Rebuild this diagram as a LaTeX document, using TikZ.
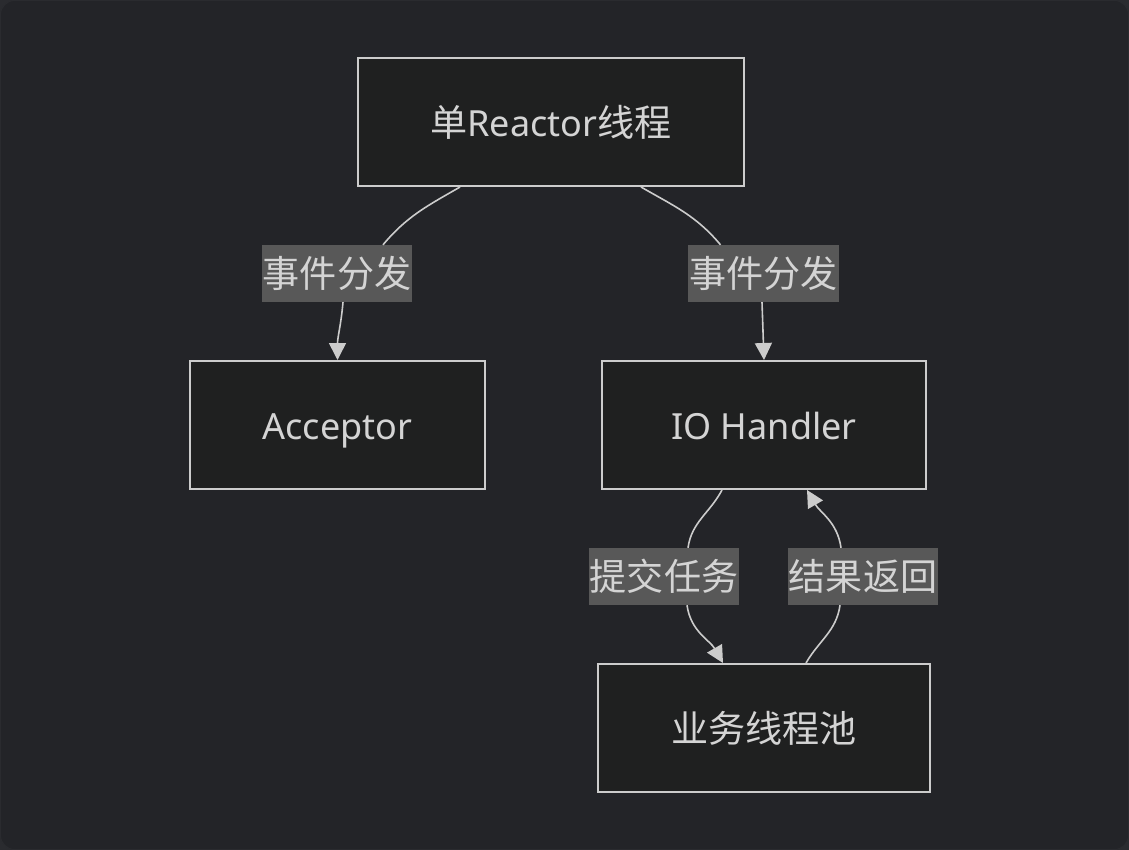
\documentclass[tikz,border=0pt]{standalone}
\usepackage{fontspec}
\setmainfont{Noto Sans}
\newfontfamily\cjk[Scale=1.03]{Noto Sans CJK SC}
\usepackage{tikz}
\usetikzlibrary{arrows.meta}
\definecolor{bg_outer}{HTML}{2A2B2F}
\definecolor{bg_dark}{HTML}{232428}
\definecolor{box_fill}{HTML}{1F2020}
\definecolor{box_line}{HTML}{CCCCCC}
\definecolor{tag_fill}{HTML}{585858}
\definecolor{text_grey}{HTML}{D4D4D4}

\begin{document}
\begin{tikzpicture}[x=1pt, y=-1pt, >={Triangle[length=17pt,width=17pt]},
  every node/.style={font=\fontsize{36}{44}\selectfont, text=text_grey},
  block/.style={draw=box_line, line width=2pt, fill=box_fill, minimum height=128pt,
    text height=34pt, text depth=5pt},
  tag/.style={fill=tag_fill, inner sep=1pt, minimum height=57pt},
  link/.style={draw=box_line, line width=1.6pt}]

  \useasboundingbox (0,0) rectangle (1129,850);
  \fill[bg_outer] (0,0) rectangle (1129,850);
  \draw[bg_outer, fill=bg_dark, line width=1pt, rounded corners=14pt] (0.5,0.5) rectangle (1128.5,849.5);

  % boxes
  \node[block, minimum width=386pt] (reactor) at (551,122) {{\cjk 单}Reactor{\cjk 线程}};
  \node[block, minimum width=295pt] (acceptor) at (337.5,425) {Acceptor};
  \node[block, minimum width=324pt] (handler) at (764,425) {IO Handler};
  \node[block, minimum width=332pt] (pool) at (764,728) {\cjk 业务线程池};

  % edge labels
  \node[tag] (dispatch_a) at (337,273.5) {\cjk 事件分发};
  \node[tag] (dispatch_b) at (763.5,273.5) {\cjk 事件分发};
  \node[tag] (submit) at (664,576.5) {\cjk 提交任务};
  \node[tag] (result) at (863,576.5) {\cjk 结果返回};

  \draw[link] ([xshift=-91pt]reactor.south) to[out=-150,in=50] ([xshift=46pt]dispatch_a.north);
  \draw[link,->] ([xshift=6pt]dispatch_a.south) to[out=-95,in=90] (acceptor.north);

  \draw[link] ([xshift=90pt]reactor.south) to[out=-30,in=130] ([xshift=-43pt]dispatch_b.north);
  \draw[link,->] ([xshift=-1.5pt]dispatch_b.south) to[out=-88,in=92] (handler.north);

  \draw[link] ([xshift=-42pt]handler.south) to[out=-118,in=82] ([xshift=24pt]submit.north);
  \draw[link,->] ([xshift=23pt]submit.south) to[out=-82,in=120] ([xshift=-41pt]pool.north);

  \draw[link] ([xshift=42pt]pool.north) to[out=60,in=-98] ([xshift=-23pt]result.south);
  \draw[link,->] ([xshift=-22pt]result.north) to[out=98,in=-60] ([xshift=43pt]handler.south);

\end{tikzpicture}
\end{document}
